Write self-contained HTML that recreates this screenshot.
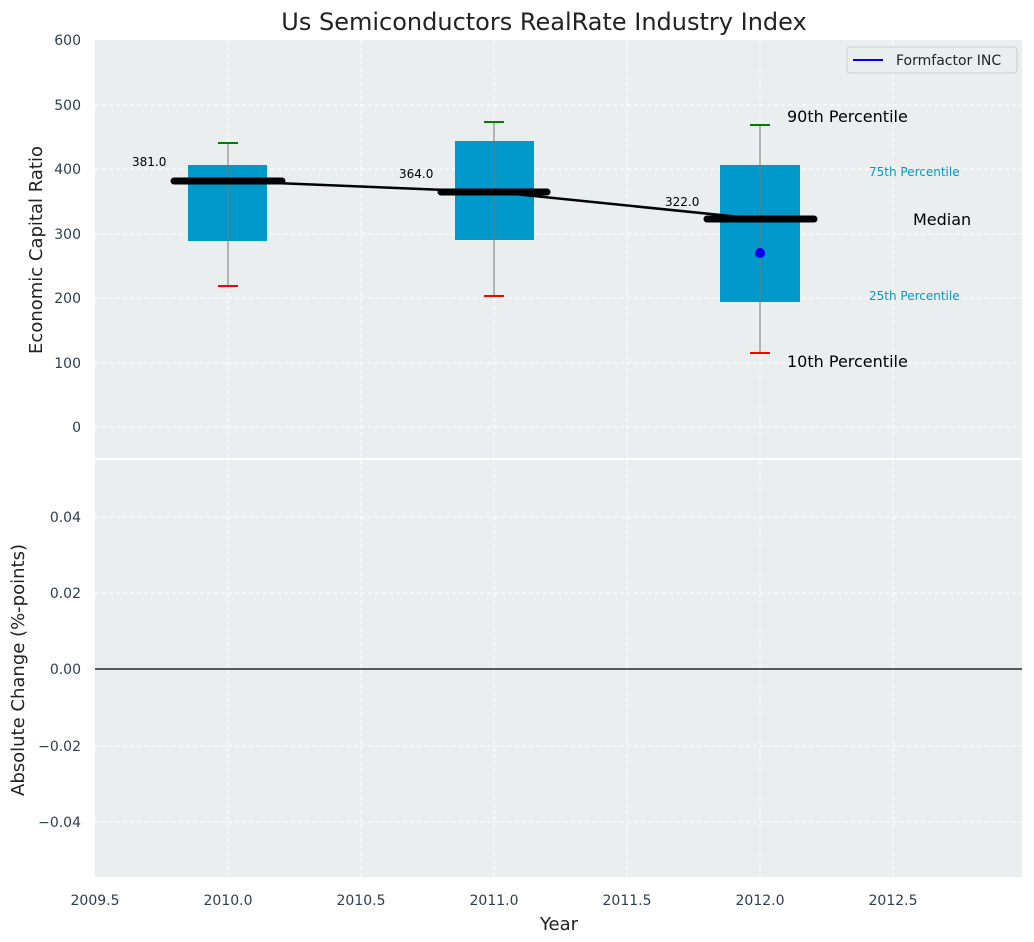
<!DOCTYPE html>
<html><head><meta charset="utf-8"><style>body{margin:0;background:#fff}svg{display:block;font-family:"DejaVu Sans","Liberation Sans",sans-serif}</style></head><body>
<svg width="1034" height="942" xmlns="http://www.w3.org/2000/svg">
<rect width="1034" height="942" fill="#fff"/>
<text x="544" y="30" font-size="24" text-anchor="middle" fill="#222">Us Semiconductors RealRate Industry Index</text>
<rect x="95" y="40" width="927" height="418" fill="#eaeeef"/>
<g stroke="#fff" stroke-dasharray="4,3" stroke-width="1">
<line x1="95" x2="1022" y1="105" y2="105"/><line x1="95" x2="1022" y1="169" y2="169"/><line x1="95" x2="1022" y1="234" y2="234"/><line x1="95" x2="1022" y1="298" y2="298"/><line x1="95" x2="1022" y1="363" y2="363"/><line x1="95" x2="1022" y1="427" y2="427"/>
<line x1="228" x2="228" y1="40" y2="458"/><line x1="361" x2="361" y1="40" y2="458"/><line x1="494" x2="494" y1="40" y2="458"/><line x1="627" x2="627" y1="40" y2="458"/><line x1="760" x2="760" y1="40" y2="458"/><line x1="893" x2="893" y1="40" y2="458"/>
</g>
<g font-size="14" fill="#2c3e50" text-anchor="end">
<text x="81" y="45">600</text><text x="81" y="110">500</text><text x="81" y="174">400</text><text x="81" y="239">300</text><text x="81" y="303">200</text><text x="81" y="368">100</text><text x="81" y="432">0</text>
</g>
<text transform="translate(42,250) rotate(-90)" font-size="18" text-anchor="middle" fill="#222">Economic Capital Ratio</text>
<g fill="#0099cc">
<rect x="188" y="165" width="79" height="76"/><rect x="455" y="141" width="79" height="99"/><rect x="720" y="165" width="80" height="137"/>
</g>
<g stroke="#777" stroke-width="1">
<line x1="228" x2="228" y1="143" y2="286"/><line x1="494" x2="494" y1="122" y2="296"/><line x1="760" x2="760" y1="125" y2="353"/>
</g>
<g stroke="green" stroke-width="2"><line x1="218" x2="238" y1="143" y2="143"/><line x1="484" x2="504" y1="122" y2="122"/><line x1="750" x2="770" y1="125" y2="125"/></g>
<g stroke="red" stroke-width="2"><line x1="218" x2="238" y1="286" y2="286"/><line x1="484" x2="504" y1="296" y2="296"/><line x1="750" x2="770" y1="353" y2="353"/></g>
<polyline points="228,181 494,192 760,219" fill="none" stroke="#000" stroke-width="2.5"/>
<g stroke="#000" stroke-width="7" stroke-linecap="round"><line x1="174" x2="282" y1="181" y2="181"/><line x1="441" x2="547" y1="192" y2="192"/><line x1="707" x2="814" y1="219" y2="219"/></g>
<circle cx="760" cy="253" r="5" fill="#0000ee"/>
<g font-size="12" fill="#000"><text x="132" y="166">381.0</text><text x="399" y="178">364.0</text><text x="665" y="206">322.0</text></g>
<text x="787" y="122" font-size="16">90th Percentile</text>
<text x="787" y="367" font-size="16">10th Percentile</text>
<text x="913" y="225" font-size="16">Median</text>
<text x="869" y="176" font-size="12" fill="#0099cc">75th Percentile</text>
<text x="869" y="300" font-size="12" fill="#0099cc">25th Percentile</text>
<rect x="847" y="47" width="170" height="26" rx="3" fill="#eaeeef" stroke="#ccc"/>
<line x1="853" x2="883" y1="60" y2="60" stroke="#0000ee" stroke-width="2"/>
<text x="896" y="65" font-size="14" fill="#222">Formfactor INC</text>
<rect x="95" y="460" width="927" height="417" fill="#eaeeef"/>
<g stroke="#fff" stroke-dasharray="4,3" stroke-width="1">
<line x1="95" x2="1022" y1="517" y2="517"/><line x1="95" x2="1022" y1="593" y2="593"/><line x1="95" x2="1022" y1="746" y2="746"/><line x1="95" x2="1022" y1="822" y2="822"/>
<line x1="228" x2="228" y1="460" y2="877"/><line x1="361" x2="361" y1="460" y2="877"/><line x1="494" x2="494" y1="460" y2="877"/><line x1="627" x2="627" y1="460" y2="877"/><line x1="760" x2="760" y1="460" y2="877"/><line x1="893" x2="893" y1="460" y2="877"/>
</g>
<line x1="95" x2="1022" y1="669" y2="669" stroke="#000" stroke-width="1.2"/>
<g font-size="14" fill="#2c3e50" text-anchor="end">
<text x="81" y="522">0.04</text><text x="81" y="598">0.02</text><text x="81" y="674">0.00</text><text x="81" y="751">−0.02</text><text x="81" y="827">−0.04</text>
</g>
<text transform="translate(24,670) rotate(-90)" font-size="18" text-anchor="middle" fill="#222">Absolute Change (%-points)</text>
<g font-size="14" fill="#2c3e50" text-anchor="middle">
<text x="95" y="905">2009.5</text><text x="228" y="905">2010.0</text><text x="361" y="905">2010.5</text><text x="494" y="905">2011.0</text><text x="627" y="905">2011.5</text><text x="760" y="905">2012.0</text><text x="893" y="905">2012.5</text>
</g>
<text x="559" y="930" font-size="18" text-anchor="middle" fill="#222">Year</text>
</svg>
</body></html>
